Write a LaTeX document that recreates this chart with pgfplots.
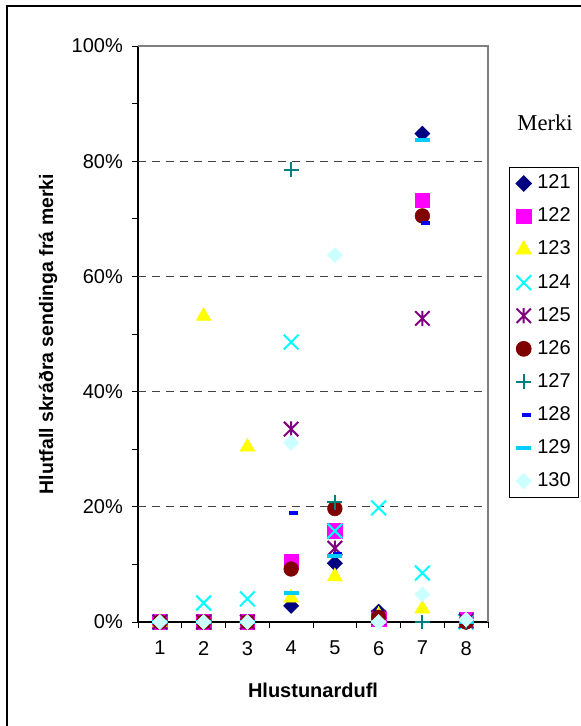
\documentclass[border=0pt]{standalone}
\usepackage{pgfplots}
\pgfplotsset{compat=1.18}
\usepackage{pgfplotstable}
\usepackage{fontspec}
\setmainfont{Liberation Sans}
\newfontfamily\serifmerki{Liberation Serif}
\definecolor{c121}{HTML}{000080}
\definecolor{c122}{HTML}{FF00FF}
\definecolor{c123}{HTML}{FFFF00}
\definecolor{c124}{HTML}{00FFFF}
\definecolor{c125}{HTML}{800080}
\definecolor{c126}{HTML}{800000}
\definecolor{c127}{HTML}{008080}
\definecolor{c128}{HTML}{0000FF}
\definecolor{c129}{HTML}{00CCFF}
\definecolor{c130}{HTML}{CCFFFF}
\pgfdeclareplotmark{xast}{%
  \pgfpathmoveto{\pgfqpoint{-\pgfplotmarksize}{-\pgfplotmarksize}}%
  \pgfpathlineto{\pgfqpoint{\pgfplotmarksize}{\pgfplotmarksize}}%
  \pgfpathmoveto{\pgfqpoint{-\pgfplotmarksize}{\pgfplotmarksize}}%
  \pgfpathlineto{\pgfqpoint{\pgfplotmarksize}{-\pgfplotmarksize}}%
  \pgfpathmoveto{\pgfqpoint{0pt}{-1.05\pgfplotmarksize}}%
  \pgfpathlineto{\pgfqpoint{0pt}{1.05\pgfplotmarksize}}%
  \pgfusepathqstroke}
\pgfdeclareplotmark{longdash}{%
  \pgfpathrectangle{\pgfqpoint{-\pgfplotmarksize}{-0.27\pgfplotmarksize}}{\pgfqpoint{2\pgfplotmarksize}{0.54\pgfplotmarksize}}%
  \pgfusepathqfill}
\pgfdeclareplotmark{shortdash}{%
  \pgfpathrectangle{\pgfqpoint{-\pgfplotmarksize}{-0.44\pgfplotmarksize}}{\pgfqpoint{2\pgfplotmarksize}{0.88\pgfplotmarksize}}%
  \pgfusepathqfill}
\pgfplotstableread{
x  a121 a122 a123 a124 a125 a126 a127 a128 a129 a130
1  0    0    0    0    0    0    0    0    0    0
2  0    0    53.1 3.3  0    0    0    0    0    0
3  0    0    30.4 4.0  0    0    0    0    0    0
4  2.8  10.5 4.2  48.6 33.5 9.2  78.5 19.0 5.1  31.1
5  10.2 15.8 7.9  15.8 12.8 19.7 20.8 11.8 11.5 63.7
6  1.8  0.5  1.2  19.8 0.8  0.8  0    0    0    0
7  84.8 73.2 2.3  8.5  52.7 70.5 0    69.2 83.6 4.8
8  0    0.4  0    0    0.2  0    0    0    0    0.4
}\data
\begin{document}
\begin{tikzpicture}
\useasboundingbox (0,0) rectangle (581*0.75pt,726*0.75pt);
\draw[line width=1.1pt] (7*0.75pt,0) -- (7*0.75pt,720*0.75pt) -- (581*0.75pt,720*0.75pt);
\begin{axis}[
  at={(138*0.75pt,104*0.75pt)}, anchor=south west,
  scale only axis, width=262.5pt, height=432pt,
  xmin=0.5, xmax=8.5, ymin=0, ymax=100,
  axis x line*=bottom, axis y line*=left,
  axis line style={-, line width=0.9pt, black},
  xtick={1,...,8}, xticklabels={1,2,3,4,5,6,7,8},
  minor xtick={0.5,1.5,...,8.5},
  ytick={0,20,...,100}, yticklabels={0\%,20\%,40\%,60\%,80\%,100\%},
  minor ytick={10,30,...,90},
  extra y ticks={20,40,60,80}, extra y tick labels={},
  extra y tick style={ymajorgrids=true, major tick length=0pt},
  major grid style={dashed, black!75, line width=0.6pt, dash pattern=on 6pt off 4.5pt},
  tick align=outside,
  major tick length=4.8pt, minor tick length=4.5pt,
  x tick style={draw=none}, minor x tick style={draw=black, line width=0.7pt},
  y tick style={black, line width=0.7pt},
  tick label style={font=\fontsize{15}{18}\selectfont},
  xticklabel style={yshift=-6pt},
  yticklabel style={xshift=-3pt},
  xlabel={\bfseries Hlustunardufl},
  ylabel={\bfseries Hlutfall skráðra sendinga frá merki},
  xlabel style={font=\fontsize{15}{18}\selectfont, at={(axis description cs:0.5,-0.118)}, anchor=center},
  ylabel style={font=\fontsize{14.6}{18}\selectfont, at={(axis description cs:-0.257,0.5)}, anchor=center},
  legend style={at={(axis description cs:1.06,0.79)}, anchor=north west, draw=black, line width=0.8pt,
    font=\fontsize{15}{18}\selectfont, row sep=8.8pt, column sep=3.5pt, inner xsep=5pt, inner ysep=4pt,
    nodes={inner sep=1pt, text height=11pt, text depth=3pt}},
  legend cell align=left,
  legend image code/.code={\draw[mark repeat=2,mark phase=2] plot coordinates {(0cm,0cm) (0.3cm,0cm) (0.6cm,0cm)};},
  only marks,
  clip=false,
]
\addplot[mark=square*, mark size=4pt, c121, mark options={rotate=45, fill=c121, draw=c121}] table[x=x,y=a121]{\data};
\addlegendentry{121}
\addplot[mark=square*, mark size=5.5pt, c122, mark options={fill=c122, draw=c122}] table[x=x,y=a122]{\data};
\addlegendentry{122}
\addplot[mark=triangle*, mark size=6.4pt, c123, mark options={fill=c123, draw=c123}] table[x=x,y=a123]{\data};
\addlegendentry{123}
\addplot[mark=x, mark size=7.8pt, c124, mark options={line width=1.5pt, draw=c124}] table[x=x,y=a124]{\data};
\addlegendentry{124}
\addplot[mark=xast, mark size=5.4pt, c125, mark options={line width=1.5pt, draw=c125}] table[x=x,y=a125]{\data};
\addlegendentry{125}
\addplot[mark=*, mark size=5.5pt, c126, mark options={fill=c126, draw=c126}] table[x=x,y=a126]{\data};
\addlegendentry{126}
\addplot[mark=+, mark size=5.6pt, c127, mark options={line width=1.5pt, draw=c127}] table[x=x,y=a127]{\data};
\addlegendentry{127}
\addplot[mark=shortdash, mark size=3.4pt, c128, mark options={fill=c128, xshift=2pt}] table[x=x,y=a128]{\data};
\addlegendentry{128}
\addplot[mark=longdash, mark size=5.6pt, c129, mark options={fill=c129}] table[x=x,y=a129]{\data};
\addlegendentry{129}
\addplot[mark=square*, mark size=4pt, c130, mark options={rotate=45, fill=c130, draw=c130}] table[x=x,y=a130]{\data};
\addlegendentry{130}
\draw[black!50, line width=1.5pt] (rel axis cs:0,1) -- (rel axis cs:1,1) -- (rel axis cs:1,0);
\node[font=\serifmerki\fontsize{17}{20}\selectfont] at (axis description cs:1.163,0.866) {Merki};
\end{axis}
\end{tikzpicture}
\end{document}
